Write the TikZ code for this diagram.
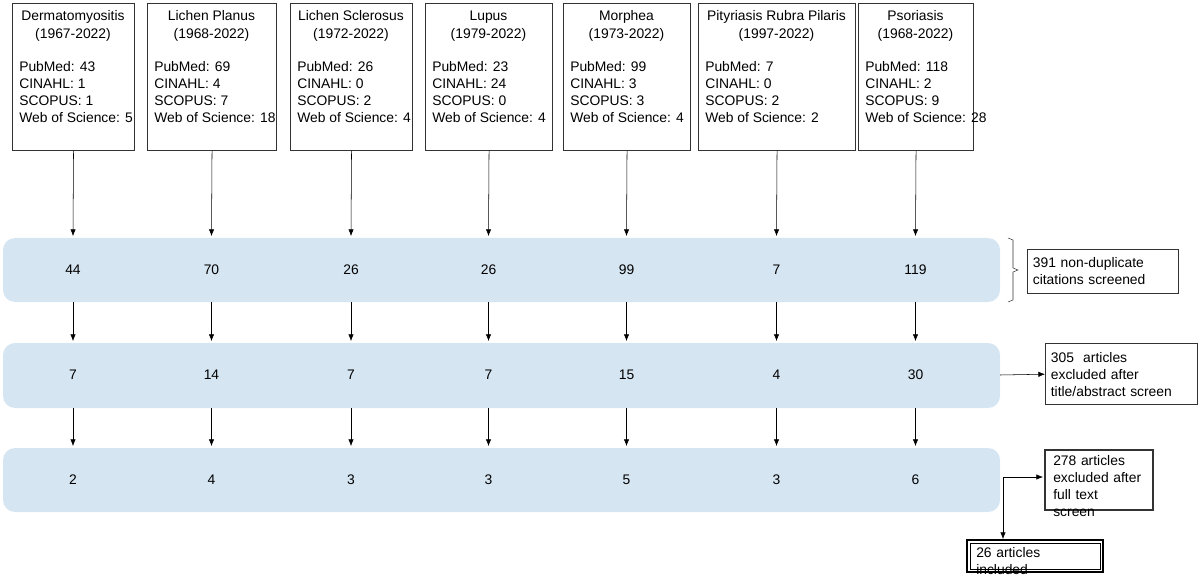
\documentclass[tikz,border=0pt]{standalone}
\usepackage{fontspec}
\setmainfont{Liberation Sans}
\usetikzlibrary{arrows.meta}
\definecolor{bandblue}{RGB}{214,229,242}

\begin{document}
\begin{tikzpicture}[x=0.75pt, y=-0.75pt,
    font=\fontsize{10.4}{12.75}\selectfont,
    srcbox/.style={draw=black!80, thick},
    band/.style={fill=bandblue, rounded corners=9pt},
    arr/.style={-{Latex[length=5pt,width=4pt]}, black}
]
\useasboundingbox (0,0) rectangle (1200,581);
% bands
\fill[band] (3,238) rectangle (1000,302);
\fill[band] (3,343) rectangle (1000,408);
\fill[band] (3,448) rectangle (1000,512);
% source boxes, counts and arrows
\foreach \l/\r/\name/\yrs/\pm/\ci/\scp/\ws/\na/\nb/\nc [count=\i] in {
    12/134/Dermatomyositis/1967-2022/43/1/1/5/44/7/2,
    147/276/Lichen Planus/1968-2022/69/4/7/18/70/14/4,
    290/412/Lichen Sclerosus/1972-2022/26/0/2/4/26/7/3,
    425/552/Lupus/1979-2022/23/24/0/4/26/7/3,
    563/690/Morphea/1973-2022/99/3/3/4/99/15/5,
    698/855/Pityriasis Rubra Pilaris/1997-2022/7/0/2/2/7/4/3,
    858/973/Psoriasis/1968-2022/118/2/9/28/119/30/6}{
  \pgfmathsetmacro{\xm}{(\l+\r)/2}
  \pgfmathsetmacro{\bw}{(\r-\l)*0.75}
  \node[srcbox, anchor=north west, minimum width=\bw pt, minimum height=110pt] (src\i) at (\l,3) {};
  \node[anchor=base] (ttl\i) at (\xm,21) {\name};
  \node[anchor=base] (yrs\i) at (\xm,39) {(\yrs)};
  \node[anchor=north west, inner sep=0pt, align=left] (db\i) at (\l+7,61)
    {PubMed: \pm\\CINAHL: \ci\\SCOPUS: \scp\\Web of Science: \ws};
  \node (na\i) at (\xm,270) {\na};
  \node (nb\i) at (\xm,375) {\nb};
  \node (nc\i) at (\xm,480) {\nc};
  \draw[arr] (src\i.south) -- (\xm,236);
  \draw[arr] (\xm,302) -- (\xm,341);
  \draw[arr] (\xm,408) -- (\xm,446);
}
% right hand side
\draw[black!80] (1008,238) -- (1013,240) -- (1013,268) -- (1018,270) -- (1013,272) -- (1013,300) -- (1008,302);
\node[draw=black!80, thick, anchor=north west, minimum width=113pt, minimum height=33pt, align=left, text width=105pt, inner sep=4pt] (scr) at (1027,249) {391 non-duplicate\\citations screened};
\node[draw=black!80, thick, anchor=north west, minimum width=114pt, minimum height=46pt, align=left, text width=106pt, inner sep=4pt] (excl1) at (1045,343) {305~ articles\\excluded after\\title/abstract screen};
\draw[arr] (1000,375) -- (excl1.west);
\draw[draw=black!80, thick] (1045,450) rectangle (1153,510);
\node[anchor=north west, align=left, inner sep=0pt, text width=110pt] (excl2) at (1053,455) {278 articles\\excluded after\\full text\\screen};
\coordinate (split) at (1003,477);
\draw[arr] (split) -- (1043,477);
\draw[arr] (split) -- (1003,539);
\draw[draw=black, line width=1.6pt] (967,540) rectangle (1103,572);
\draw[draw=black, line width=0.5pt] (970,543) rectangle (1100,569);
\node[anchor=north west, align=left, inner sep=0pt, text width=110pt] (incl) at (976,547) {26 articles\\included};
\end{tikzpicture}
\end{document}
